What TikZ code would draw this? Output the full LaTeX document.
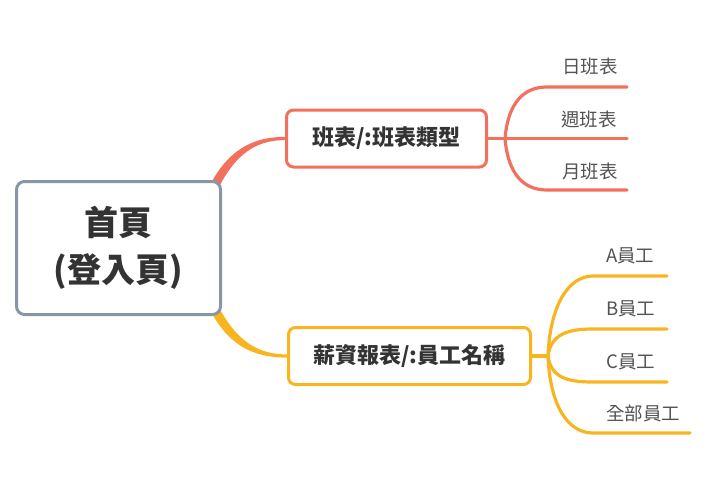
\documentclass[tikz,border=0pt]{standalone}
\usepackage{fontspec}
\setmainfont{Noto Sans CJK TC}
\usepackage{tikz}
\usetikzlibrary{positioning,calc,backgrounds}

\definecolor{rootgray}{HTML}{8896A8}
\definecolor{branchred}{HTML}{F3705C}
\definecolor{branchyellow}{HTML}{F8B51F}
\definecolor{textdark}{HTML}{333333}

\begin{document}
\begin{tikzpicture}[
    x=1pt, y=-1pt,
    root/.style={rectangle, draw=rootgray, fill=white, line width=3pt, rounded corners=8pt, minimum width=204pt, minimum height=133pt, align=center, text=textdark, font=\fontsize{34}{47}\selectfont\bfseries},
    topic/.style={rectangle, fill=white, line width=3pt, rounded corners=7pt, minimum height=57pt, text=textdark, font=\fontsize{22}{26}\selectfont\bfseries},
    leaf/.style={anchor=west, inner sep=0pt, text=textdark!85, font=\fontsize{18.5}{22}\selectfont},
    link/.style={line width=3.2pt, line cap=round}
]
    \useasboundingbox (0,0) rectangle (710,479);

    \node [root] (home) at (118.5,248) {首頁\\(登入頁)};
    \node [topic, draw=branchred, minimum width=200pt] (shift) at (386.5,138.5) {班表/:班表類型};
    \node [topic, draw=branchyellow, minimum width=242pt] (pay) at (409.5,356) {薪資報表/:員工名稱};

    \node [leaf] (day) at (562,66) {日班表};
    \node [leaf] (week) at (561,119) {週班表};
    \node [leaf] (month) at (562,171) {月班表};

    \node [leaf] (empa) at (606,256) {A員工};
    \node [leaf] (empb) at (606,309) {B員工};
    \node [leaf] (empc) at (606,362) {C員工};
    \node [leaf] (empall) at (606,413) {全部員工};

    \coordinate (shifthub) at ($(shift.east)+(17,0)$);
    \coordinate (dayline) at (627,87);
    \coordinate (weekline) at (627,138.5);
    \coordinate (monthline) at (627,190);

    \coordinate (payhub) at ($(pay.east)+(16,0)$);
    \coordinate (empaline) at (667,276);
    \coordinate (empbline) at (667,329);
    \coordinate (empcline) at (667,382);
    \coordinate (empallline) at (690,433);

    \begin{scope}[on background layer]
        \fill [branchred] ($(home.north east)+(-16,13)$) .. controls +(19,-41) and +(-35,0) .. ($(shift.west)+(0,-1.6)$)
            -- ($(shift.west)+(0,1.6)$) .. controls +(-33,0) and +(18,-39) .. ($(home.north east)+(-8,17)$) -- cycle;
        \fill [branchyellow] ($(home.south east)+(-8,-18)$) .. controls +(18,37) and +(-35,0) .. ($(pay.west)+(0,-1.6)$)
            -- ($(pay.west)+(0,1.6)$) .. controls +(-37,0) and +(19,41) .. ($(home.south east)+(-16,-14)$) -- cycle;
    \end{scope}

    \draw [link, branchred] (shift.east) -- (shifthub);
    \draw [link, branchred] (shifthub) .. controls +(3,-35) and +(-24,0) .. ($(dayline)+(-80,0)$) -- (dayline);
    \draw [link, branchred] (shifthub) -- (weekline);
    \draw [link, branchred] (shifthub) .. controls +(3,35) and +(-24,0) .. ($(monthline)+(-80,0)$) -- (monthline);

    \draw [link, branchyellow] (pay.east) -- (payhub);
    \draw [link, branchyellow] (payhub) .. controls +(2,-50) and +(-25,0) .. ($(empaline)+(-74,0)$) -- (empaline);
    \draw [link, branchyellow] (payhub) .. controls +(3,-22) and +(-25,0) .. ($(empbline)+(-74,0)$) -- (empbline);
    \draw [link, branchyellow] (payhub) .. controls +(3,22) and +(-25,0) .. ($(empcline)+(-74,0)$) -- (empcline);
    \draw [link, branchyellow] (payhub) .. controls +(2,50) and +(-25,0) .. ($(empallline)+(-97,0)$) -- (empallline);
\end{tikzpicture}
\end{document}
